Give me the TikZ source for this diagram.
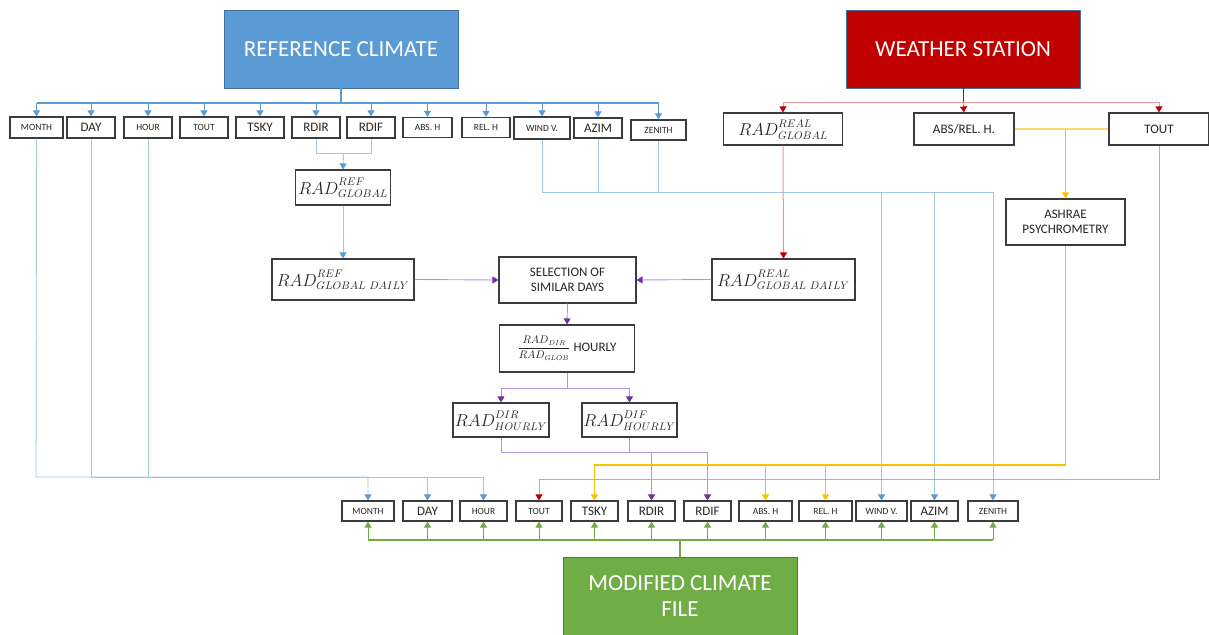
\documentclass[tikz,border=0pt]{standalone}
\usepackage{fontspec}
\setmainfont{Carlito}
\usetikzlibrary{arrows.meta}

\definecolor{boxgray}{RGB}{60,60,60}
\definecolor{txtgray}{RGB}{38,38,38}
\definecolor{bluemid}{RGB}{91,155,213}
\definecolor{bluelight}{RGB}{160,198,232}
\definecolor{blueedge}{RGB}{65,113,156}
\definecolor{reddark}{RGB}{192,0,0}
\definecolor{redlight}{RGB}{238,150,150}
\definecolor{yelw}{RGB}{255,192,0}
\definecolor{yelwlight}{RGB}{255,215,110}
\definecolor{purp}{RGB}{112,48,160}
\definecolor{purplight}{RGB}{180,150,215}
\definecolor{grn}{RGB}{112,173,71}

% stacked super/subscript with a little extra separation
\newcommand{\radlbl}[2]{RAD^{#1\vphantom{(}}_{#2\vphantom{A}}}

\begin{document}
\begin{tikzpicture}[x=1pt,y=-1pt,
  box/.style={draw=boxgray, line width=1.1pt, fill=white, inner sep=0pt,
    align=center, text=txtgray},
  sm/.style={font=\fontsize{9.5}{11}\selectfont},
  lg/.style={font=\fontsize{13}{15}\selectfont},
  mth/.style={font=\fontsize{16}{18}\selectfont},
  head/.style={line width=0.8pt, text=white, inner sep=0pt, align=center,
    minimum width=234pt, minimum height=78pt,
    font=\fontsize{23}{26}\selectfont},
  tip/.style={-{Triangle[length=6pt,width=7pt,color=#1]}},
  busline/.style={draw=bluemid, line width=2.4pt},
  busarr/.style={draw=bluemid, line width=1pt, tip=bluemid},
  bline/.style={draw=bluelight, line width=0.9pt},
  barr/.style={bline, tip=bluemid},
  rline/.style={draw=redlight, line width=1pt},
  rarr/.style={rline, tip=reddark},
  yline/.style={draw=yelwlight, line width=1.1pt},
  yarr/.style={draw=yelw, line width=1.1pt, tip=yelw},
  pline/.style={draw=purplight, line width=0.9pt},
  parr/.style={pline, tip=purp},
  gline/.style={draw=grn, line width=1.6pt},
  garr/.style={draw=grn, line width=0.8pt, tip=grn}]

\useasboundingbox (0,0) rectangle (1209,634);

% ---------- source and target blocks ----------
\node[head, draw=blueedge, fill=bluemid] (refc) at (341,49) {REFERENCE CLIMATE};
\node[head, draw=blueedge, fill=reddark] (ws) at (963,49) {WEATHER STATION};
\node[head, draw=blueedge, fill=grn, minimum height=79pt] (mod) at (680,596.5) {MODIFIED CLIMATE\\[0pt]FILE};

% ---------- reference climate fields ----------
\node[box,sm,minimum width=53pt,minimum height=21pt] (tMonth) at (36.5,127.5) {MONTH};
\node[box,lg,minimum width=48pt,minimum height=21pt] (tDay) at (91,127.5) {DAY};
\node[box,sm,minimum width=48pt,minimum height=21pt] (tHour) at (148,127.5) {HOUR};
\node[box,sm,minimum width=48pt,minimum height=21pt] (tTout) at (204,127.5) {TOUT};
\node[box,lg,minimum width=48pt,minimum height=21pt] (tTsky) at (260,127.5) {TSKY};
\node[box,lg,minimum width=48pt,minimum height=21pt] (tRdir) at (316,127.5) {RDIR};
\node[box,lg,minimum width=48pt,minimum height=21pt] (tRdif) at (371,127.5) {RDIF};
\node[box,sm,minimum width=49pt,minimum height=20pt] (tAbs) at (427.5,127.5) {ABS. H};
\node[box,sm,minimum width=48pt,minimum height=20pt] (tRel) at (486,127.5) {REL. H};
\node[box,sm,minimum width=56pt,minimum height=22pt] (tWind) at (542,128) {WIND V.};
\node[box,lg,minimum width=48pt,minimum height=20pt] (tAzim) at (598,128) {AZIM};
\node[box,sm,minimum width=55pt,minimum height=20pt] (tZen) at (658.5,130) {ZENITH};

% ---------- modified climate fields ----------
\node[box,sm,minimum width=52pt,minimum height=20pt] (bMonth) at (368,511) {MONTH};
\node[box,lg,minimum width=49pt,minimum height=20pt] (bDay) at (427.5,511) {DAY};
\node[box,sm,minimum width=47pt,minimum height=20pt] (bHour) at (483.5,511) {HOUR};
\node[box,sm,minimum width=46pt,minimum height=20pt] (bTout) at (539,511) {TOUT};
\node[box,lg,minimum width=47pt,minimum height=20pt] (bTsky) at (594.5,511) {TSKY};
\node[box,lg,minimum width=47pt,minimum height=20pt] (bRdir) at (651.5,511) {RDIR};
\node[box,lg,minimum width=47pt,minimum height=20pt] (bRdif) at (707.5,511) {RDIF};
\node[box,sm,minimum width=53pt,minimum height=20pt] (bAbs) at (765.5,511) {ABS. H};
\node[box,sm,minimum width=53pt,minimum height=20pt] (bRel) at (825.5,511) {REL. H};
\node[box,sm,minimum width=51pt,minimum height=20pt] (bWind) at (881.5,511) {WIND V.};
\node[box,lg,minimum width=47pt,minimum height=20pt] (bAzim) at (934.5,511) {AZIM};
\node[box,sm,minimum width=50pt,minimum height=20pt] (bZen) at (993,511) {ZENITH};

% ---------- processing blocks ----------
\node[box,mth,minimum width=95pt,minimum height=35pt] (radRef) at (343,187.5) {$\radlbl{REF}{GLOBAL}$};
\node[box,mth,minimum width=142pt,minimum height=41pt] (radRefD) at (343,279.5) {$\radlbl{REF}{GLOBAL\ DAILY}$};
\node[box,lg,minimum width=137pt,minimum height=46pt] (sel) at (567.5,280) {SELECTION OF\\SIMILAR DAYS};
\node[box,mth,minimum width=143pt,minimum height=41pt] (radRealD) at (783.5,279.5) {$\radlbl{REAL}{GLOBAL\ DAILY}$};
\node[box,lg,minimum width=135pt,minimum height=47pt] (ratio) at (567,348.5)
  {{\fontsize{10.5}{12}\selectfont$\displaystyle\frac{RAD_{DIR}}{RAD_{GLOB}}$}\ HOURLY};
\node[box,mth,minimum width=96pt,minimum height=34pt] (dirH) at (501,420) {$\radlbl{DIR}{HOURLY}$};
\node[box,mth,minimum width=95pt,minimum height=34pt] (difH) at (629.5,420) {$\radlbl{DIF}{HOURLY}$};

% ---------- weather station fields ----------
\node[box,mth,minimum width=119pt,minimum height=32pt] (radReal) at (783,129) {$\radlbl{REAL}{GLOBAL}$};
\node[box,lg,minimum width=100pt,minimum height=32pt] (absRel) at (964,129) {ABS/REL. H.};
\node[box,lg,minimum width=100pt,minimum height=32pt] (wsTout) at (1159,129) {TOUT};
\node[box,lg,minimum width=119pt,minimum height=46pt] (ashrae) at (1065.5,222) {ASHRAE\\PSYCHROMETRY};

% ---------- junction points ----------
\coordinate (bus) at (36,103);
\coordinate (rdjoin) at (343.5,153);
\coordinate (redbus) at (963,102);
\coordinate (ratioSplit) at (567,388);
\coordinate (hourlyBus) at (501,452);
\coordinate (leftBus) at (36,477);
\coordinate (rightBus) at (542,192);
\coordinate (yelBus) at (1065.5,465);
\coordinate (redLow) at (1159,479);
\coordinate (gbus) at (680,540);

% reference climate distribution bus
\draw[busline] (refc.south) -- (refc.south |- bus);
\draw[busline] (tMonth.north |- bus) -- (tZen.north |- bus);
\foreach \n in {tMonth,tDay,tHour,tTout,tTsky,tRdir,tRdif,tAbs,tRel,tWind,tAzim,tZen}
  \draw[busarr] (\n.north |- bus) -- (\n.north);

% global radiation from direct + diffuse
\draw[bline] (tRdir.south) -- (tRdir.south |- rdjoin) -- (tRdif.south |- rdjoin) -- (tRdif.south);
\draw[barr] (rdjoin) -- (radRef.north);
\draw[barr] (radRef.south) -- (radRefD.north);

% day selection
\draw[parr] (radRefD.east) -- (sel.west);
\draw[parr] (radRealD.west) -- (sel.east);
\draw[parr] (sel.south) -- (ratio.north);
\draw[pline] (ratio.south) -- (ratioSplit);
\draw[parr] (ratioSplit) -| (dirH.north);
\draw[parr] (ratioSplit) -| (difH.north);
\draw[parr] (dirH.south) -- (hourlyBus) -| (bRdir.north);
\draw[parr] (difH.south) -- (difH.south |- hourlyBus) -| (bRdif.north);

% calendar fields carried over
\draw[barr] (tMonth.south) -- (leftBus) -| (bMonth.north);
\draw[barr] (tDay.south) -- (tDay.south |- leftBus) -| (bDay.north);
\draw[barr] (tHour.south) -- (tHour.south |- leftBus) -| (bHour.north);

% wind and solar angles carried over
\draw[barr] (tWind.south) -- (rightBus) -| (bWind.north);
\draw[barr] (tAzim.south) -- (tAzim.south |- rightBus) -| (bAzim.north);
\draw[barr] (tZen.south) -- (tZen.south |- rightBus) -| (bZen.north);

% weather station distribution
\draw[draw=reddark, line width=0.9pt] (ws.south) -- (redbus);
\draw[rarr] (redbus) -| (radReal.north);
\draw[rarr] (redbus) -- (absRel.north);
\draw[rarr] (redbus) -| (wsTout.north);
\draw[rarr] (radReal.south) -- (radRealD.north);

% psychrometric chain
\draw[yline] (absRel.east) -- (wsTout.west);
\draw[yarr] (ashrae.north |- absRel.east) -- (ashrae.north);
\draw[yarr] (ashrae.south) -- (yelBus) -| (bTsky.north);
\draw[yarr] (bAbs.north |- yelBus) -- (bAbs.north);
\draw[yarr] (bRel.north |- yelBus) -- (bRel.north);

% measured outdoor temperature
\draw[rarr] (wsTout.south) -- (redLow) -| (bTout.north);

% assembly of the modified file
\draw[gline] (mod.north) -- (gbus);
\draw[gline] (bMonth.south |- gbus) -- (bZen.south |- gbus);
\foreach \n in {bMonth,bDay,bHour,bTout,bTsky,bRdir,bRdif,bAbs,bRel,bWind,bAzim,bZen}
  \draw[garr] (\n.south |- gbus) -- (\n.south);

\end{tikzpicture}
\end{document}
